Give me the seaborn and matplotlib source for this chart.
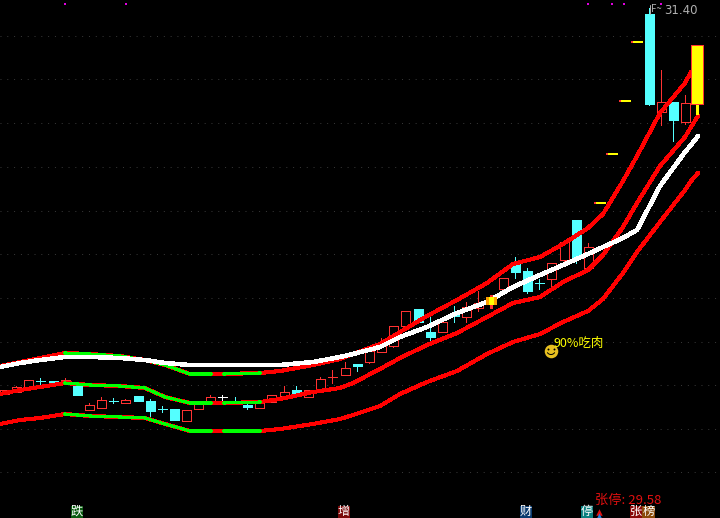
import matplotlib
matplotlib.use("Agg")
import matplotlib.pyplot as plt
from matplotlib.patches import Arc
import numpy as np
import pandas as pd
import seaborn as sns

candle_x = [4, 16, 28, 40, 53, 65, 77, 89, 101, 113, 125, 138, 150, 162, 174, 186, 198, 210, 222, 235,
            247, 259, 271, 284, 296, 308, 320, 332, 345, 357, 369, 381, 393, 405, 418, 430, 442, 454, 466, 478,
            503, 515, 527, 539, 551, 564, 576, 588, 649, 661, 673, 685]
candle_top = [390, 387, 380, 381, 381, 380, 385, 405, 400, 401, 400, 396, 401, 409, 409, 410, 401, 397, 397, 401,
              405, 401, 395, 392, 390, 390, 379, 377, 368, 364, 351, 345, 326, 311, 309, 332, 322, 313, 307, 303,
              278, 263, 271, 283, 263, 242, 220, 247, 14, 102, 102, 103]
candle_bot = [394, 392, 388, 381, 383, 384, 395, 410, 408, 401, 403, 401, 411, 409, 420, 421, 409, 401, 397, 401,
              407, 408, 402, 396, 395, 397, 389, 377, 375, 366, 362, 352, 346, 326, 322, 337, 332, 316, 317, 308,
              289, 272, 291, 283, 279, 260, 257, 268, 104, 112, 120, 122]
wick_high = [390, 386, 380, 378, 381, 378, 382, 403, 397, 398, 399, 396, 399, 406, 409, 410, 401, 395, 395, 397,
             403, 401, 395, 386, 386, 390, 377, 370, 362, 364, 351, 338, 326, 311, 309, 316, 322, 306, 302, 291,
             278, 257, 268, 279, 263, 242, 220, 243, 8, 70, 102, 95]
wick_low = [394, 392, 388, 384, 385, 384, 395, 410, 408, 403, 403, 401, 416, 412, 420, 421, 409, 401, 400, 403,
            409, 408, 402, 396, 396, 397, 391, 383, 375, 371, 363, 352, 347, 326, 322, 340, 332, 322, 322, 311,
            289, 278, 293, 289, 286, 261, 263, 270, 105, 125, 141, 124]
candle_kind = list("rrrccrcrrc" "rccccrrrwc" "crrrcrrrrc" "rrrrccrcrr" "rcccrrcrcrcr")

# limit-up candles
limit_x = [600, 612, 625, 637]
limit_y = [203, 154, 101, 42]
grid_y = [36, 79, 123, 167, 211, 254, 298, 342, 385, 429, 472]
dot_x = [65, 126, 588, 612, 624, 661]

# Band lines
band_x = [0, 20, 40, 65, 90, 120, 145, 165, 190, 211, 224, 260, 280, 313, 340, 353, 380, 400, 427, 457,
          487, 513, 540, 563, 588, 603, 623, 637, 660, 685, 691, 698]
upper = [366, 362, 358, 353, 354, 356, 360, 365, 374, 374, 374, 373, 371, 365, 359, 354, 344, 332, 316, 300,
         283, 264, 257, 244, 228, 214, 181, 156, 113, 83, 72, np.nan]
middle = [367, 363, 360, 357, 357, 358, 360, 363, 365, 365, 365, 365, 365, 362, 357, 354, 347, 337, 327, 313,
          302, 287, 275, 265, 254, 247, 238, 230, 186, 152, 145, 136]
lower_a = [394, 390, 387, 383, 385, 386, 388, 397, 403, 403, 403, 402, 399, 392, 388, 383, 369, 358, 345, 333,
           317, 303, 297, 282, 270, 255, 227, 203, 166, 137, 127, 116]
lower_b = [424, 420, 418, 414, 416, 417, 418, 424, 431, 431, 431, 431, 429, 424, 419, 415, 406, 394, 382, 371,
           354, 342, 334, 322, 311, 299, 273, 252, 222, 190, 181, 173]
green_ranges = [(65, 211), (224, 260)]

label_text = ["跌", "增", "财", "停", "张", "榜"]
label_x = [77, 344, 526, 587, 636, 648.5]
label_bg = ["#0a5a10", "#7a0a0a", "#0a3a6e", "#0a8080", "#8a0a0a", "#8a4a0a"]

RED = "#ff0000"
CANDLE_RED = "#ff3232"
CYAN = "#54ffff"
YELLOW = "#ffff00"

sns.set_theme(style="dark", rc={"axes.facecolor": "black", "figure.facecolor": "black"})
plt.rcParams["font.family"] = ["Noto Sans CJK SC", "DejaVu Sans"]

fig = plt.figure(figsize=(7.2, 5.18), dpi=100)
ax = fig.add_axes([0, 0, 1, 1])
ax.set_xlim(0, 720)
ax.set_ylim(518, 0)
ax.axis("off")

ax.hlines(grid_y, 0, 720, color="#3a3a3a", linewidth=0.7, linestyles=(0, (1, 6)), zorder=1)

# candles
colour_of = {"r": CANDLE_RED, "c": CYAN, "w": "white"}
for x, t, b, h, l, k in zip(candle_x, candle_top, candle_bot, wick_high, wick_low, candle_kind):
    col = colour_of[k]
    ax.vlines(x, h, l, color=col, linewidth=0.72, zorder=2, antialiased=False)
    face = "black" if k == "r" and b > t else col
    ax.bar(x, b - t, bottom=t, width=9, facecolor=face, edgecolor=col, linewidth=0.72, zorder=3, antialiased=False)

# bands, red with green stretches
for name, vals in [("upper", upper), ("a", lower_a), ("b", lower_b)]:
    df = pd.DataFrame({"x": band_x, "y": vals})
    sns.lineplot(data=df, x="x", y="y", color=RED, linewidth=2.2, estimator=None, sort=False, ax=ax, zorder=4,
                 antialiased=False)
    for lo, hi in green_ranges:
        part = df[(df.x >= lo) & (df.x <= hi)]
        sns.lineplot(data=part, x="x", y="y", color="#00ff00", linewidth=1.5, estimator=None, sort=False, ax=ax,
                     zorder=5, antialiased=False)
sns.lineplot(x=band_x, y=middle, color="white", linewidth=2.5, estimator=None, sort=False, ax=ax, zorder=6,
             antialiased=False)

# limit-up dashes
ax.hlines(limit_y, [x - 6 for x in limit_x], [x + 6 for x in limit_x], color=CANDLE_RED, linewidth=1.2, zorder=7,
          antialiased=False)
ax.hlines(limit_y, [x - 4 for x in limit_x], [x + 6 for x in limit_x], color=YELLOW, linewidth=1.2, zorder=8,
          antialiased=False)

# last candle and the little gold one sit on top of the lines
ax.vlines(697, 104, 114, color=YELLOW, linewidth=0.8, zorder=7, antialiased=False)
ax.bar(697, 59, bottom=45, width=12, facecolor=YELLOW, edgecolor=CANDLE_RED, linewidth=0.4, zorder=8, antialiased=False)
ax.vlines(491, 295, 308, color=CANDLE_RED, linewidth=0.8, zorder=7, antialiased=False)
ax.bar(491, 8, bottom=297, width=11, facecolor="#ffa000", linewidth=0, zorder=8)
ax.bar(491, 8, bottom=297, width=5, facecolor=YELLOW, linewidth=0, zorder=9)

sns.scatterplot(x=dot_x, y=[4] * len(dot_x), color="#e000e0", marker="s", s=4, linewidth=0, ax=ax, zorder=5)

# high mark
ax.plot([650, 650], [14, 5], color="#b0b0b0", linewidth=0.7, zorder=9)
ax.text(650.5, 4, "F~", color="#b0b0b0", fontsize=7, va="top", ha="left", zorder=9)
ax.text(664, 10.5, "31.40", color="#b0b0b0", fontsize=8.5, va="center", ha="left", family=["DejaVu Sans"], zorder=9)

# smiley and signal
ax.scatter([551], [351], s=95, color="#e8c020", linewidth=0, zorder=9)
ax.scatter([548, 554], [349, 349], s=2, color="black", linewidth=0, zorder=10)
ax.add_patch(Arc((551, 351), 8, 7, theta1=20, theta2=160, color="black", linewidth=0.7, zorder=10))
ax.text(554, 343, "90%吃肉", color=YELLOW, fontsize=9, va="center", ha="left", zorder=9)

# bottom row
ax.text(595, 500, "张停: 29.58", color="#e01010", fontsize=9.5, va="center", ha="left", zorder=9)
for t, x, bg in zip(label_text, label_x, label_bg):
    ax.bar(x, 12, bottom=506, width=12.5, facecolor=bg, linewidth=0, zorder=8)
    ax.text(x, 511.5, t, color="white", fontsize=8.8, va="center", ha="center", zorder=9)
ax.scatter([599], [512], marker="^", s=22, color="#e01010", linewidth=0, zorder=9)
ax.scatter([599], [515.5], marker="^", s=18, color="#2080e0", linewidth=0, zorder=10)

legend = ax.get_legend()
if legend:
    legend.remove()
ax.set_ylim(518, 0)
ax.set_xlim(0, 720)
fig.savefig("out.png", dpi=100, facecolor="black")
